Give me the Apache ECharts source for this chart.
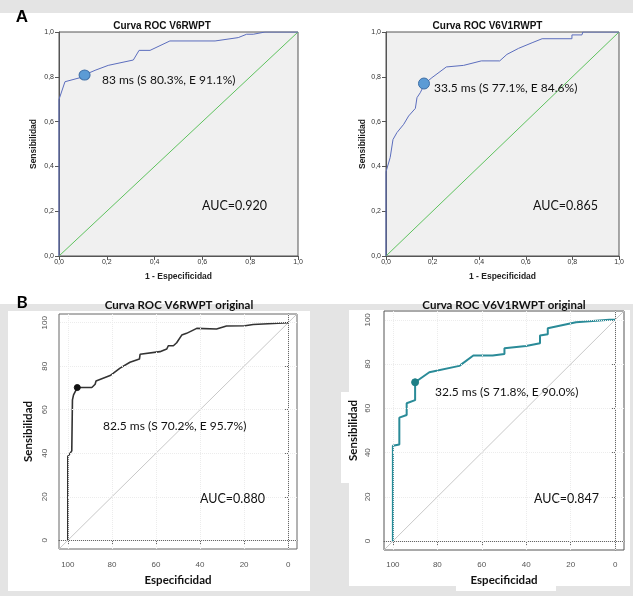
<!DOCTYPE html>
<html>
<head>
<meta charset="utf-8">
<script src="https://cdn.jsdelivr.net/npm/echarts@6/dist/echarts.min.js"></script>
<style>
  html, body { margin: 0; padding: 0; background: #ffffff; }
  #chart { width: 633px; height: 596px; }
</style>
</head>
<body>
<div id="chart"></div>
<script>
// ---------- data ----------
// Panel A (SPSS): x = 1 - Especificidad, y = Sensibilidad
const rocV6RWPT = [[0,0],[0,0.699],[0.025,0.778],[0.088,0.796],[0.112,0.811],[0.151,0.829],[0.206,0.851],[0.311,0.875],[0.335,0.918],[0.381,0.918],[0.464,0.96],[0.653,0.96],[0.75,0.975],[0.785,0.99],[0.813,0.99],[0.862,1],[1,1]];
const rocV6V1RWPT = [[0,0],[0,0.376],[0.018,0.44],[0.03,0.52],[0.047,0.551],[0.076,0.588],[0.097,0.625],[0.126,0.659],[0.133,0.707],[0.147,0.729],[0.166,0.769],[0.197,0.796],[0.259,0.844],[0.333,0.851],[0.409,0.871],[0.488,0.871],[0.519,0.9],[0.569,0.927],[0.627,0.952],[0.67,0.97],[0.798,0.97],[0.798,0.987],[0.841,0.987],[0.845,1],[1,1]];
const cutV6RWPT = [[0.107, 0.808]];
const cutV6V1RWPT = [[0.163, 0.77]];
const diagA = [[0,0],[1,1]];
const ticksA = [0, 0.2, 0.4, 0.6, 0.8, 1.0];

// Panel B (R / pROC): x = Especificidad (%), y = Sensibilidad (%)
const rocV6RWPTorig = [[100,0],[100,38.5],[98.2,41.1],[97.9,41.1],[97.9,64.5],[97.4,66.8],[95.7,70.2],[89.1,70.2],[87.6,71.7],[87.2,73.2],[80.8,75.7],[76.3,79.1],[71.8,81.8],[67.5,83.3],[67.2,85.5],[58.2,86.7],[55.1,87.9],[54.4,89.4],[52.1,89.4],[50.6,90.8],[48.3,94.3],[46.1,95.1],[41.5,97.4],[32.5,97.1],[28,98.5],[19.6,98.6],[15.9,99.2],[15.1,100],[0,100]];
const rocV6V1RWPTorig = [[100,0],[100,43.1],[97.1,43.7],[97.1,55.8],[93.8,57],[93.8,62.3],[90,63.7],[90,71.8],[83.6,76.3],[70.1,79.2],[63.8,83.9],[55.1,83.9],[49.8,84.6],[49.8,87.2],[40.1,88.2],[33.8,89.4],[33.8,92.9],[30.3,93.5],[30.3,96.2],[26.6,97],[17.6,98.9],[2.6,100],[0,100]];
const cutV6RWPTorig = [[95.7, 70.2]];
const cutV6V1RWPTorig = [[90.0, 71.8]];
const diagB = [[104,-4],[-4,104]];
const ticksB = [0, 20, 40, 60, 80, 100];

const titles = ['Curva ROC V6RWPT', 'Curva ROC V6V1RWPT', 'Curva ROC V6RWPT original', 'Curva ROC V6V1RWPT original'];
const cutLabels = ['83 ms (S 80.3%, E 91.1%)', '33.5 ms (S 77.1%, E 84.6%)', '82.5 ms (S 70.2%, E 95.7%)', '32.5 ms (S 71.8%, E 90.0%)'];
const aucLabels = ['AUC=0.920', 'AUC=0.865', 'AUC=0.880', 'AUC=0.847'];

// ---------- styling ----------
const ARIAL = '"Liberation Sans", Arial, sans-serif';
const CAL = 'Lato, "Open Sans", sans-serif';
const comma = v => v.toFixed(1).replace('.', ',');

function axisA(name, isX, nameGap) {
  return {
    type: 'value', min: 0, max: 1, interval: 0.2,
    name: name, nameLocation: 'middle', nameGap: nameGap,
    nameTextStyle: { fontFamily: ARIAL, fontWeight: 'bold', fontSize: 8.5, color: '#222' },
    axisLine: { show: true, lineStyle: { color: '#555', width: 1 } },
    axisTick: { show: true, length: 4, lineStyle: { color: '#555' } },
    axisLabel: { formatter: comma, fontFamily: ARIAL, fontSize: 7, color: '#333', margin: isX ? 2.5 : 5 },
    splitLine: { show: false }
  };
}
function axisB(name, isX, nameGap, labelMargin) {
  return {
    type: 'value', min: -4, max: 104, inverse: isX,
    name: name, nameLocation: 'middle', nameGap: nameGap,
    nameTextStyle: { fontFamily: CAL, fontWeight: 'bold', fontSize: 11.5, color: '#111' },
    axisLine: { show: true, lineStyle: { color: '#666', width: 1 } },
    axisTick: { show: true, length: 4, customValues: ticksB, lineStyle: { color: '#666' } },
    axisLabel: { customValues: ticksB, fontFamily: ARIAL, fontSize: 8, color: '#555', margin: labelMargin, rotate: isX ? 0 : 90 },
    splitLine: { show: false }
  };
}
function gridLinesB() {
  return {
    silent: true, symbol: 'none', label: { show: false },
    lineStyle: { color: '#ececec', type: 'dotted', width: 1 },
    data: ticksB.map(v => ({ xAxis: v })).concat(ticksB.map(v => ({ yAxis: v })))
  };
}
function line(data, idx, color, width, z) {
  return { type: 'line', xAxisIndex: idx, yAxisIndex: idx, data: data, showSymbol: false, symbol: 'none',
           lineStyle: { color: color, width: width }, z: z || 2, silent: true };
}
function dot(data, idx, size, fill, border) {
  return { type: 'scatter', xAxisIndex: idx, yAxisIndex: idx, data: data, symbol: 'circle', symbolSize: size,
           itemStyle: { color: fill, borderColor: border, borderWidth: 1, opacity: 1 }, z: 5, silent: true };
}
function txt(text, x, y, font, fill, align) {
  return { type: 'text', x: x, y: y, z: 10, silent: true,
           style: { text: text, font: font, fill: fill, textAlign: align || 'left', align: align || 'left',
                    textVerticalAlign: 'middle', verticalAlign: 'middle' } };
}
function rect(x, y, w, h, fill) {
  return { type: 'rect', shape: { x: x, y: y, width: w, height: h }, style: { fill: fill }, z: -10, silent: true };
}

const GREY = '#e4e4e4';
const option = {
  animation: false,
  backgroundColor: '#ffffff',
  grid: [
    { left: 59, top: 32, width: 239, height: 224, show: true, backgroundColor: '#f0f0f0', borderColor: '#555', borderWidth: 1 },
    { left: 386, top: 32, width: 233, height: 224, show: true, backgroundColor: '#f0f0f0', borderColor: '#555', borderWidth: 1 },
    { left: 59, top: 314, width: 238, height: 235, show: true, backgroundColor: '#ffffff', borderColor: '#666', borderWidth: 1 },
    { left: 384, top: 311, width: 240, height: 239, show: true, backgroundColor: '#ffffff', borderColor: '#555', borderWidth: 1 }
  ],
  xAxis: [
    Object.assign(axisA('1 - Especificidad', true, 16), { gridIndex: 0 }),
    Object.assign(axisA('1 - Especificidad', true, 16), { gridIndex: 1 }),
    Object.assign(axisB('Especificidad', true, 25, 12), { gridIndex: 2 }),
    Object.assign(axisB('Especificidad', true, 24, 11), { gridIndex: 3 })
  ],
  yAxis: [
    Object.assign(axisA('Sensibilidad', false, 21), { gridIndex: 0 }),
    Object.assign(axisA('Sensibilidad', false, 18), { gridIndex: 1 }),
    Object.assign(axisB('Sensibilidad', false, 25, 10), { gridIndex: 2 }),
    Object.assign(axisB('Sensibilidad', false, 25, 12), { gridIndex: 3 })
  ],
  series: [
    line(diagA, 0, '#5ec25e', 1),
    line(rocV6RWPT, 0, '#5b6dbd', 1, 3),
    dot(cutV6RWPT, 0, [11, 10], '#5b9bd5', '#3f6fa6'),
    line(diagA, 1, '#5ec25e', 1),
    line(rocV6V1RWPT, 1, '#5b6dbd', 1, 3),
    dot(cutV6V1RWPT, 1, [11, 11], '#5b9bd5', '#3f6fa6'),
    Object.assign(line(diagB, 2, '#c8c8c8', 1), { markLine: gridLinesB() }),
    line(rocV6RWPTorig, 2, '#333333', 1.6, 3),
    dot(cutV6RWPTorig, 2, 6, '#111111', '#111111'),
    Object.assign(line(diagB, 3, '#c8c8c8', 1), { markLine: gridLinesB() }),
    line(rocV6V1RWPTorig, 3, '#2a8b98', 2, 3),
    dot(cutV6V1RWPTorig, 3, 7, '#1d7f86', '#1d7f86')
  ],
  graphic: [
    rect(0, 0, 633, 13, GREY),
    rect(0, 304, 633, 292, GREY),
    rect(8, 311, 302, 280, '#ffffff'),
    rect(349, 310, 281, 276, '#ffffff'),
    rect(341, 392, 10, 91, '#ffffff'),
    rect(456, 580, 100, 11, '#ffffff'),
    txt('A', 22, 17, 'bold 17px ' + ARIAL, '#000', 'center'),
    txt('B', 22, 303, 'bold 17px ' + CAL, '#000', 'center'),
    txt(titles[0], 162, 26.5, 'bold 10px ' + ARIAL, '#111', 'center'),
    txt(titles[1], 487.5, 26.5, 'bold 10px ' + ARIAL, '#111', 'center'),
    txt(titles[2], 179, 305.5, 'bold 11.5px ' + CAL, '#111', 'center'),
    txt(titles[3], 504, 305, 'bold 11.5px ' + CAL, '#111', 'center'),
    txt(cutLabels[0], 102, 80, '12px ' + CAL, '#111'),
    txt(cutLabels[1], 434, 88, '12px ' + CAL, '#111'),
    txt(cutLabels[2], 103, 426, '12px ' + CAL, '#111'),
    txt(cutLabels[3], 435, 392, '12px ' + CAL, '#111'),
    txt(aucLabels[0], 202, 206, '12.5px ' + CAL, '#111'),
    txt(aucLabels[1], 533, 206, '12.5px ' + CAL, '#111'),
    txt(aucLabels[2], 200, 499, '12.5px ' + CAL, '#111'),
    txt(aucLabels[3], 534, 499, '12.5px ' + CAL, '#111')
  ]
};

const chart = echarts.init(document.getElementById('chart'), null, { renderer: 'canvas' });
chart.setOption(option);
</script>
</body>
</html>
